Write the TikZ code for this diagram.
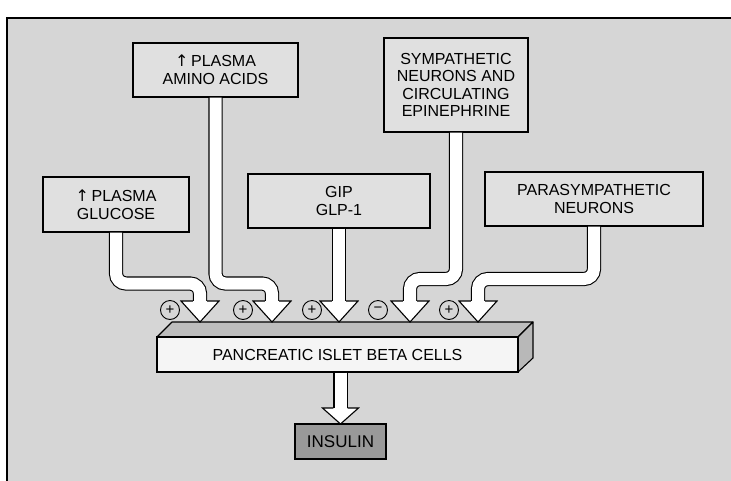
\documentclass[tikz,border=0pt]{standalone}
\usepackage{fontspec}
\setmainfont{Liberation Sans}
\newfontfamily\arrfont{DejaVu Sans}
\definecolor{bgc}{gray}{0.84}
\definecolor{boxc}{gray}{0.88}
\definecolor{frontc}{gray}{0.96}
\definecolor{topc}{gray}{0.74}
\definecolor{sidec}{gray}{0.72}
\definecolor{insc}{gray}{0.60}
\newcommand\arrhead[3]{%
  \fill[white] (#1) ++(-#2,0) -- ++(2*#2,0) -- ++(-#2,#3) -- cycle;
  \draw[headline] (#1) ++(-7.1,0) -- ++(-#2+7.1,0) -- ++(#2,#3) -- ++(#2,-#3) -- ++(-#2+7.1,0);
}
\begin{document}
\begin{tikzpicture}[x=1pt,y=-1pt,
  box/.style={draw, line width=1.1pt, fill=boxc, inner sep=0pt, align=center,
    font=\fontsize{16}{17.6}\selectfont},
  hollow/.style={draw=black, line width=1.1pt, double=white, double distance=12pt,
    rounded corners=10pt},
  sign/.style={draw, circle, line width=0.9pt, fill=bgc, minimum size=19pt,
    inner sep=0pt, font=\fontsize{15}{15}\selectfont},
  headline/.style={line width=1.1pt, line join=miter}]
\useasboundingbox (0,0) rectangle (731,480);
\clip (0,0) rectangle (731,480);
\fill[white] (0,0) rectangle (731,480);
\draw[line width=1.5pt, fill=bgc] (7,18) rectangle (745,495);

% source boxes
\node[box, minimum width=165pt, minimum height=54pt] (amino) at (215.5,70)
  {{\arrfont ↑}\,PLASMA\\AMINO ACIDS};
\node[box, minimum width=144pt, minimum height=94pt] (symp) at (456,85)
  {SYMPATHETIC\\NEURONS AND\\CIRCULATING\\EPINEPHRINE};
\node[box, minimum width=146pt, minimum height=55pt] (glu) at (116,204.5)
  {{\arrfont ↑}\,PLASMA\\GLUCOSE};
\node[box, minimum width=182pt, minimum height=54pt] (gip) at (339,201)
  {GIP\\GLP-1};
\node[box, minimum width=218pt, minimum height=54pt] (para) at (594,199)
  {PARASYMPATHETIC\\NEURONS};

% beta cell block
\fill[topc, draw=black, line width=1.1pt, line join=round]
  (157,337) -- (172,322) -- (533,322) -- (518,337) -- cycle;
\fill[sidec, draw=black, line width=1.1pt, line join=round]
  (518,337) -- (533,322) -- (533,358) -- (518,372) -- cycle;
\node[draw, line width=1.1pt, fill=frontc, minimum width=361pt, minimum height=35pt,
  inner sep=0pt, font=\fontsize{16}{17.6}\selectfont] (beta) at (337.5,354.5)
  {PANCREATIC ISLET BETA CELLS};

% insulin
\node[draw, line width=1.1pt, fill=insc, minimum width=91pt, minimum height=35pt,
  inner sep=0pt, font=\fontsize{17}{18}\selectfont] (ins) at (340.5,441.5) {INSULIN};

% head tops
\coordinate (h1) at (200,301);
\coordinate (h2) at (272,301);
\coordinate (h3) at (339,301);
\coordinate (h4) at (410,301);
\coordinate (h5) at (478,301);
\coordinate (hI) at (340.5,408);

% hollow connectors
\draw[hollow] (glu.south) |- (200,283.5) -- (h1);
\draw[hollow] (amino.south) |- (272,283.5) -- (h2);
\draw[hollow] (gip.south -| h3) -- (h3);
\draw[hollow] (symp.south) |- (410,279) -- (h4);
\draw[hollow] (para.south) |- (478,279) -- (h5);
\draw[hollow] (beta.south -| ins) -- (hI);

\arrhead{h1}{19}{21}
\arrhead{h2}{19}{21}
\arrhead{h3}{19}{21}
\arrhead{h4}{19}{21}
\arrhead{h5}{19}{21}
\arrhead{hI}{18}{16}

% signs
\node[sign] (s1) at (170,310) {+};
\node[sign] (s2) at (243,310) {+};
\node[sign] (s3) at (312,310) {+};
\node[sign] (s4) at (378,310) {−};
\node[sign] (s5) at (449,310) {+};
\end{tikzpicture}
\end{document}
